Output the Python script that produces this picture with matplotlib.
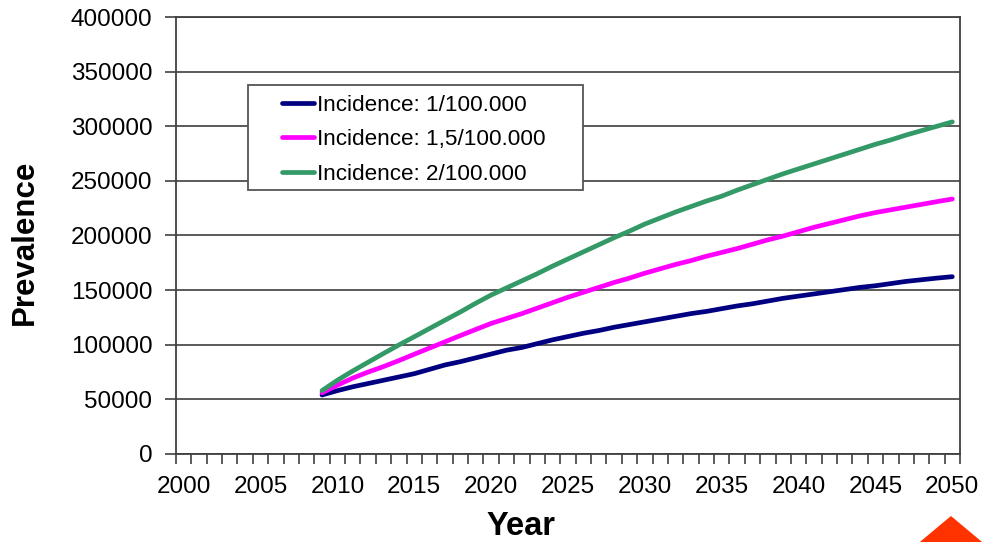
import matplotlib
matplotlib.use("Agg")
import matplotlib.pyplot as plt
from matplotlib.patches import Polygon, Rectangle
from matplotlib.ticker import FixedLocator

plt.rcParams['font.family'] = ['Liberation Sans', 'DejaVu Sans']

years = list(range(2009, 2051))
incidence_1 = [54000, 58000, 61500, 64500, 67500, 70500, 73500, 77500, 81500, 84500,
               88000, 91500, 95000, 97500, 101000, 104500, 107500, 110500, 113000, 116000,
               118500, 121000, 123500, 126000, 128500, 130500, 133000, 135500, 137500, 140000,
               142500, 144500, 146500, 148500, 150500, 152500, 154000, 156000, 158000, 159500,
               161000, 162300]
incidence_15 = [56000, 63000, 69500, 75000, 80000, 85500, 91300, 97000, 102700, 108400,
                114000, 119500, 124000, 128500, 133500, 138500, 143500, 148000, 152500, 157000,
                161000, 165500, 169500, 173500, 177000, 181000, 184500, 188000, 192000, 196000,
                199500, 203500, 207500, 211000, 214500, 218000, 221000, 223500, 226000, 228500,
                231000, 233400]
incidence_2 = [58000, 67500, 76000, 84000, 92000, 99800, 107300, 114900, 122500, 130000,
               138000, 145500, 152000, 158500, 165000, 172000, 178500, 185000, 191500, 198000,
               204000, 210500, 216000, 221500, 226500, 231500, 236000, 241500, 246500, 251500,
               256500, 261000, 265500, 270000, 274500, 279000, 283500, 287500, 292000, 296000,
               300000, 304000]
series_labels = ['Incidence: 1/100.000', 'Incidence: 1,5/100.000', 'Incidence: 2/100.000']
series_colors = ['#000080', '#FF00FF', '#339966']
year_labels = list(range(2000, 2051, 5))
y_ticks = list(range(0, 400001, 50000))

fig = plt.figure(figsize=(9.82, 5.42), dpi=100)
ax = fig.add_axes([0.1792, 0.1624, 0.7984, 0.8062])

handles = []
for vals, lab, col in zip([incidence_1, incidence_15, incidence_2], series_labels, series_colors):
    h, = ax.plot(years, vals, color=col, lw=3.4, label=lab, solid_capstyle='round', zorder=3)
    handles.append(h)

ax.set_xlim(1999.5, 2050.5)
ax.set_ylim(0, 400000)

# year labels sit in the middle of each category, ticks on the boundaries
ax.xaxis.set_major_locator(FixedLocator(year_labels))
ax.set_xticklabels([str(y) for y in year_labels])
ax.xaxis.set_minor_locator(FixedLocator([y + 0.5 for y in range(1999, 2051)]))
ax.tick_params(axis='x', which='major', length=0, pad=16, labelsize=17.5)
ax.tick_params(axis='x', which='minor', length=7, width=1.2, color='#404040', direction='out')

ax.set_yticks(y_ticks)
ax.set_yticklabels([str(v) for v in y_ticks])
ax.tick_params(axis='y', length=8, width=1.2, color='#404040', pad=9, labelsize=17.5)

ax.yaxis.grid(True, color='#4d4d4d', lw=1.3)
ax.set_axisbelow(True)
for side in ['left', 'bottom', 'right', 'top']:
    ax.spines[side].set_color('#404040')
    ax.spines[side].set_linewidth(1.3)

ax.set_ylabel('Prevalence', fontsize=22.5, fontweight='bold')
ax.yaxis.set_label_coords(-0.1926, 0.485)
ax.yaxis.label.set_va('center')
ax.set_xlabel('Year', fontsize=23.5, fontweight='bold')
ax.xaxis.set_label_coords(0.44, -0.166)
ax.xaxis.label.set_va('center')

# legend box
ax.add_patch(Rectangle((0.0918, 0.604), 0.4273, 0.240, transform=ax.transAxes,
                       facecolor='white', edgecolor='#555555', lw=1.3, zorder=4))
leg = ax.legend(handles=handles, loc='upper left', bbox_to_anchor=(0.135, 0.822),
                frameon=False, fontsize=16.2, handlelength=1.45, handletextpad=0.1,
                labelspacing=0.6, borderaxespad=0, borderpad=0)
leg.set_zorder(5)

# orange marker in the corner
fig.patches.append(Polygon([[0.9684, 0.048], [0.9235, -0.02], [1.0133, -0.02]],
                           closed=True, transform=fig.transFigure, figure=fig,
                           facecolor='#FF3300', edgecolor='none'))

fig.savefig('out.png', dpi=100)
